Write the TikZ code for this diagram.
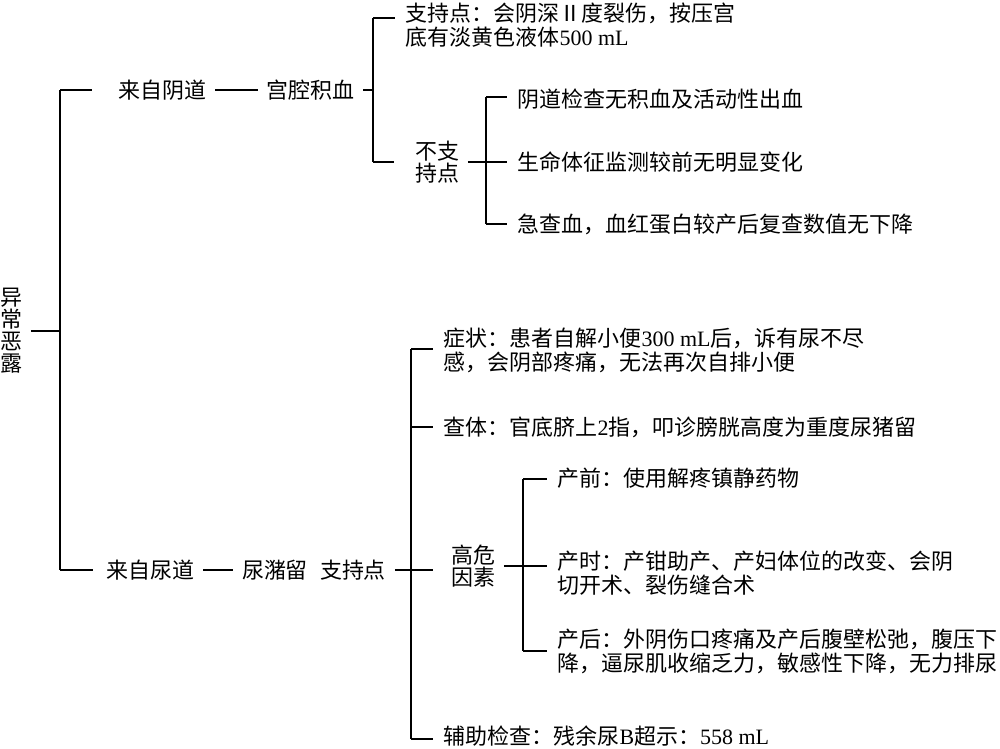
\documentclass[tikz,border=0pt]{standalone}
\usepackage{fontspec}
\setmainfont{Noto Sans CJK SC}
\newfontfamily\latinfont{Liberation Serif}
\newcommand{\lat}[1]{{\latinfont #1}}
\tikzset{
  mid/.style={inner xsep=0.16cm, inner ysep=0pt},
  stack/.style={mid, align=center, font=\fontsize{12.5}{12.5}\selectfont},
  leaf/.style={anchor=west, inner xsep=0.2cm, inner ysep=0pt, align=left},
}
\begin{document}
\begin{tikzpicture}[x=0.02cm, y=-0.02cm, line width=1.1pt, font=\fontsize{12.5}{13.6}\selectfont]
\useasboundingbox (0,0) rectangle (1000,749);
% root and main bracket
\node[stack] (root) at (11,331) {异\\常\\恶\\露};
\coordinate (m1) at (60,90);
\coordinate (m2) at (60,570);
\draw (m1) -- (m2);
\draw (root) -- (root -| m1);
% from vagina
\node[mid] (vagina) at (162.5,90) {来自阴道};
\node[mid] (uterus) at (310.5,90) {宫腔积血};
\draw[shorten >=0.35cm] (m1) -- (vagina);
\draw (vagina) -- (uterus);
\coordinate (b1t) at (373,18);
\coordinate (b1b) at (373,162);
\draw (uterus) -- (uterus -| b1t);
\draw (b1t) -- (b1b);
\node[leaf] (supp1) at (395,25) {支持点：会阴深Ⅱ度裂伤，按压宫\\底有淡黄色液体\lat{500 mL}};
\draw (b1t) -- (b1t -| supp1.west);
\node[stack] (nosupp) at (437,162) {不支\\持点};
\draw[shorten >=0.24cm] (b1b) -- (nosupp);
\coordinate (b2t) at (486,97);
\coordinate (b2b) at (486,224);
\draw (b2t) -- (b2b);
\node[leaf] (nobleed) at (507,99) {阴道检查无积血及活动性出血};
\node[leaf] (vital) at (507,162) {生命体征监测较前无明显变化};
\node[leaf] (hemo) at (507,224) {急查血，血红蛋白较产后复查数值无下降};
\draw (b2t) -- (b2t -| nobleed.west);
\draw (nosupp) -- (nosupp -| vital.west);
\draw (b2b) -- (hemo);
% from urethra
\node[mid] (urethra) at (150.5,570) {来自尿道};
\node[mid] (retention) at (275,570) {尿潴留};
\node[mid] (supp2) at (353,570) {支持点};
\draw[shorten >=0.1cm] (m2) -- (urethra);
\draw (urethra) -- (retention);
\coordinate (b3t) at (411,349);
\coordinate (b3b) at (411,739);
\draw (b3t) -- (b3b);
\node[leaf] (symptom) at (433,350) {症状：患者自解小便\lat{300 mL}后，诉有尿不尽\\感，会阴部疼痛，无法再次自排小便};
\node[leaf] (physical) at (433,427) {查体：官底脐上\lat{2}指，叩诊膀胱高度为重度尿猪留};
\node[stack] (risk) at (473,566) {高危\\因素};
\node[leaf] (assist) at (433,736) {辅助检查：残余尿\lat{B}超示：\lat{558 mL}};
\draw (b3t) -- (b3t -| symptom.west);
\draw (physical -| b3t) -- (physical);
\draw (supp2) -- (supp2 -| assist.west);
\draw (b3b) -- (b3b -| assist.west);
% risk factors
\coordinate (s1t) at (523,479);
\coordinate (s1b) at (523,651);
\draw (s1t) -- (s1b);
\node[leaf] (ante) at (547,478) {产前：使用解疼镇静药物};
\node[leaf] (intra) at (547,573.5) {产时：产钳助产、产妇体位的改变、会阴\\切开术、裂伤缝合术};
\node[leaf] (post) at (547,651) {产后：外阴伤口疼痛及产后腹壁松弛，腹压下\\降，逼尿肌收缩乏力，敏感性下降，无力排尿};
\draw (s1t) -- (s1t -| ante.west);
\draw (risk) -- (risk -| intra.west);
\draw (s1b) -- (post);
\end{tikzpicture}
\end{document}
